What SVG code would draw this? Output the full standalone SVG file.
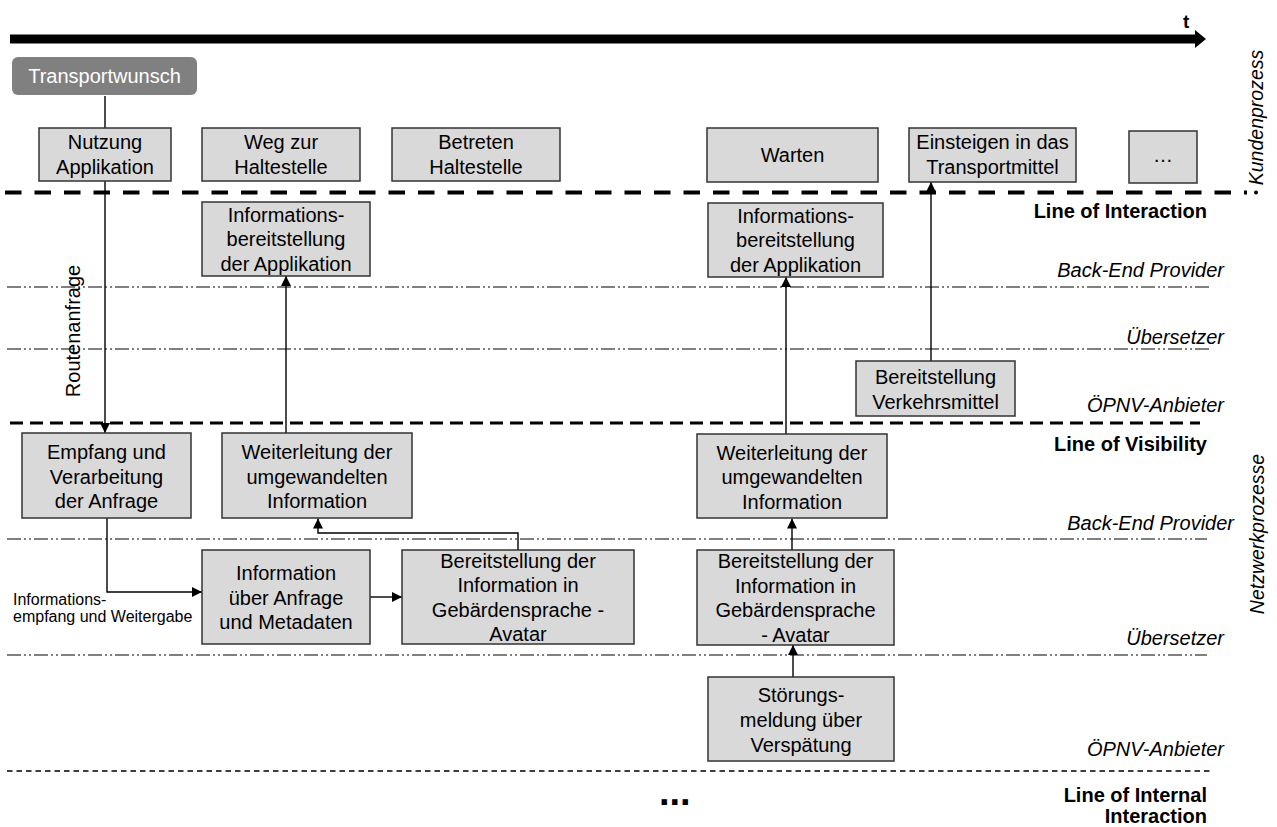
<svg xmlns="http://www.w3.org/2000/svg" width="1277" height="827" viewBox="0 0 1277 827">
<style>
.box{fill:#d9d9d9;stroke:#333;stroke-width:1.5}
.bt{font-family:"Liberation Sans",Arial,sans-serif;font-size:20px;fill:#000;text-anchor:middle}
.lane{font-family:"Liberation Sans",Arial,sans-serif;font-size:20px;font-style:italic;fill:#000;text-anchor:end}
.lol{font-family:"Liberation Sans",Arial,sans-serif;font-size:20px;font-weight:bold;fill:#000;text-anchor:end}
.side{font-family:"Liberation Sans",Arial,sans-serif;font-size:19.5px;font-style:italic;fill:#000;text-anchor:middle}
.dd{stroke:#000;stroke-width:1;fill:none;stroke-dasharray:14 3 2 3 2 3}
.con{stroke:#000;stroke-width:1.4;fill:none}
</style>
<defs>
<marker id="ah" markerUnits="userSpaceOnUse" markerWidth="10" markerHeight="10" refX="10" refY="5" orient="auto" viewBox="0 0 10 10">
<path d="M0,0 L10,5 L0,10 z" fill="#000"/>
</marker>
</defs>
<rect width="1277" height="827" fill="#fff"/>

<g id="timeline">
<rect x="10" y="34.5" width="1187" height="9" fill="#000"/>
<path d="M1195,30 L1206,39 L1195,48 z" fill="#000"/>
<text x="1183" y="28" font-family="Liberation Sans, Arial, sans-serif" font-size="19" font-weight="bold">t</text>
</g>

<g id="lanes">
<line x1="5" y1="192.5" x2="1247" y2="192.5" stroke="#000" stroke-width="4" stroke-dasharray="16.5 13"/>
<circle cx="1256" cy="192.5" r="2" fill="#000"/>
<line x1="7" y1="287" x2="1212" y2="287" class="dd"/>
<line x1="7" y1="349" x2="1212" y2="349" class="dd"/>
<line x1="10" y1="423" x2="1200" y2="423" stroke="#000" stroke-width="3" stroke-dasharray="13 7"/>
<line x1="7" y1="539" x2="1207" y2="539" class="dd"/>
<line x1="7" y1="655" x2="1207" y2="655" class="dd"/>
<line x1="7" y1="771" x2="1213" y2="771" stroke="#000" stroke-width="1.3" stroke-dasharray="5.5 4"/>
</g>

<g id="labels">
<text class="lol" x="1207" y="218">Line of Interaction</text>
<text class="lol" x="1207" y="451">Line of Visibility</text>
<text class="lol" x="1207" y="802">Line of Internal</text>
<text class="lol" x="1207" y="823">Interaction</text>
<text class="lane" x="1224" y="277">Back-End Provider</text>
<text class="lane" x="1224" y="344">Übersetzer</text>
<text class="lane" x="1224" y="412">ÖPNV-Anbieter</text>
<text class="lane" x="1234" y="530">Back-End Provider</text>
<text class="lane" x="1224" y="645">Übersetzer</text>
<text class="lane" x="1224" y="756">ÖPNV-Anbieter</text>
<text class="side" transform="translate(1263,117.5) rotate(-90)">Kundenprozess</text>
<text class="side" transform="translate(1264,534) rotate(-90)">Netzwerkprozesse</text>
<text x="659" y="805" font-family="Liberation Sans, Arial, sans-serif" font-size="38" font-weight="bold">...</text>
</g>

<g id="connectors">
<path class="con" d="M105,96 V433" marker-end="url(#ah)"/>
<path class="con" d="M107,518 V592 H202" marker-end="url(#ah)"/>
<path class="con" d="M370,597 H402" marker-end="url(#ah)"/>
<path class="con" d="M518,550 V533 H318 V518.5" marker-end="url(#ah)"/>
<path class="con" d="M286,433 V276" marker-end="url(#ah)"/>
<path class="con" d="M786,434 V277" marker-end="url(#ah)"/>
<path class="con" d="M931,361 V182" marker-end="url(#ah)"/>
<path class="con" d="M792,550 V518.5" marker-end="url(#ah)"/>
<path class="con" d="M793,677 V645" marker-end="url(#ah)"/>
<text x="13" y="605" font-family="Liberation Sans, Arial, sans-serif" font-size="16">Informations-</text>
<text x="13" y="622" font-family="Liberation Sans, Arial, sans-serif" font-size="16">empfang und Weitergabe</text>
<text class="bt" transform="translate(80,331) rotate(-90)">Routenanfrage</text>
</g>

<g id="transportwunsch">
<rect x="12" y="57" width="185" height="38" rx="6" fill="#808080"/>
<text class="bt" x="104.5" y="83" fill="#fff" style="fill:#fff">Transportwunsch</text>
</g>

<g id="nutzung">
<rect class="box" x="39" y="128" width="132" height="53"/>
<text class="bt" x="105" y="149">Nutzung</text>
<text class="bt" x="105" y="174">Applikation</text>
</g>
<g id="weg">
<rect class="box" x="202" y="128" width="158" height="53"/>
<text class="bt" x="281" y="149">Weg zur</text>
<text class="bt" x="281" y="174">Haltestelle</text>
</g>
<g id="betreten">
<rect class="box" x="392" y="128" width="168" height="53"/>
<text class="bt" x="476" y="149">Betreten</text>
<text class="bt" x="476" y="174">Haltestelle</text>
</g>
<g id="warten">
<rect class="box" x="707" y="128" width="171" height="54"/>
<text class="bt" x="792.5" y="162">Warten</text>
</g>
<g id="einsteigen">
<rect class="box" x="909" y="128" width="167" height="54"/>
<text class="bt" x="992.5" y="149">Einsteigen in das</text>
<text class="bt" x="992.5" y="174">Transportmittel</text>
</g>
<g id="mehr">
<rect class="box" x="1129" y="131" width="68" height="52"/>
<text class="bt" x="1163" y="162">…</text>
</g>

<g id="info1">
<rect class="box" x="202" y="202" width="168" height="74"/>
<text class="bt" x="286" y="222">Informations-</text>
<text class="bt" x="286" y="246">bereitstellung</text>
<text class="bt" x="286" y="270.5">der Applikation</text>
</g>
<g id="info2">
<rect class="box" x="708" y="203" width="175" height="74"/>
<text class="bt" x="795.5" y="223">Informations-</text>
<text class="bt" x="795.5" y="247">bereitstellung</text>
<text class="bt" x="795.5" y="271.5">der Applikation</text>
</g>
<g id="verkehrsmittel">
<rect class="box" x="856" y="361" width="159" height="55"/>
<text class="bt" x="935.5" y="384">Bereitstellung</text>
<text class="bt" x="935.5" y="409">Verkehrsmittel</text>
</g>

<g id="empfang">
<rect class="box" x="22" y="433" width="169" height="85"/>
<text class="bt" x="106.5" y="459">Empfang und</text>
<text class="bt" x="106.5" y="483.5">Verarbeitung</text>
<text class="bt" x="106.5" y="508">der Anfrage</text>
</g>
<g id="weiterleitung1">
<rect class="box" x="222" y="433" width="190" height="85"/>
<text class="bt" x="317" y="459">Weiterleitung der</text>
<text class="bt" x="317" y="483.5">umgewandelten</text>
<text class="bt" x="317" y="508">Information</text>
</g>
<g id="weiterleitung2">
<rect class="box" x="697" y="434" width="190" height="84"/>
<text class="bt" x="792" y="459.5">Weiterleitung der</text>
<text class="bt" x="792" y="484">umgewandelten</text>
<text class="bt" x="792" y="508.5">Information</text>
</g>

<g id="metadaten">
<rect class="box" x="202" y="550" width="168" height="94"/>
<text class="bt" x="286" y="580">Information</text>
<text class="bt" x="286" y="604.5">über Anfrage</text>
<text class="bt" x="286" y="629">und Metadaten</text>
</g>
<g id="avatar1">
<rect class="box" x="402" y="550" width="232" height="94"/>
<text class="bt" x="518" y="568">Bereitstellung der</text>
<text class="bt" x="518" y="592">Information in</text>
<text class="bt" x="518" y="616.5">Gebärdensprache -</text>
<text class="bt" x="518" y="641">Avatar</text>
</g>
<g id="avatar2">
<rect class="box" x="697" y="550" width="197" height="95"/>
<text class="bt" x="795.5" y="568">Bereitstellung der</text>
<text class="bt" x="795.5" y="592.5">Information in</text>
<text class="bt" x="795.5" y="617">Gebärdensprache</text>
<text class="bt" x="795.5" y="641.5">- Avatar</text>
</g>
<g id="stoerung">
<rect class="box" x="708" y="677" width="186" height="84"/>
<text class="bt" x="801" y="702">Störungs-</text>
<text class="bt" x="801" y="727">meldung über</text>
<text class="bt" x="801" y="752">Verspätung</text>
</g>
</svg>
